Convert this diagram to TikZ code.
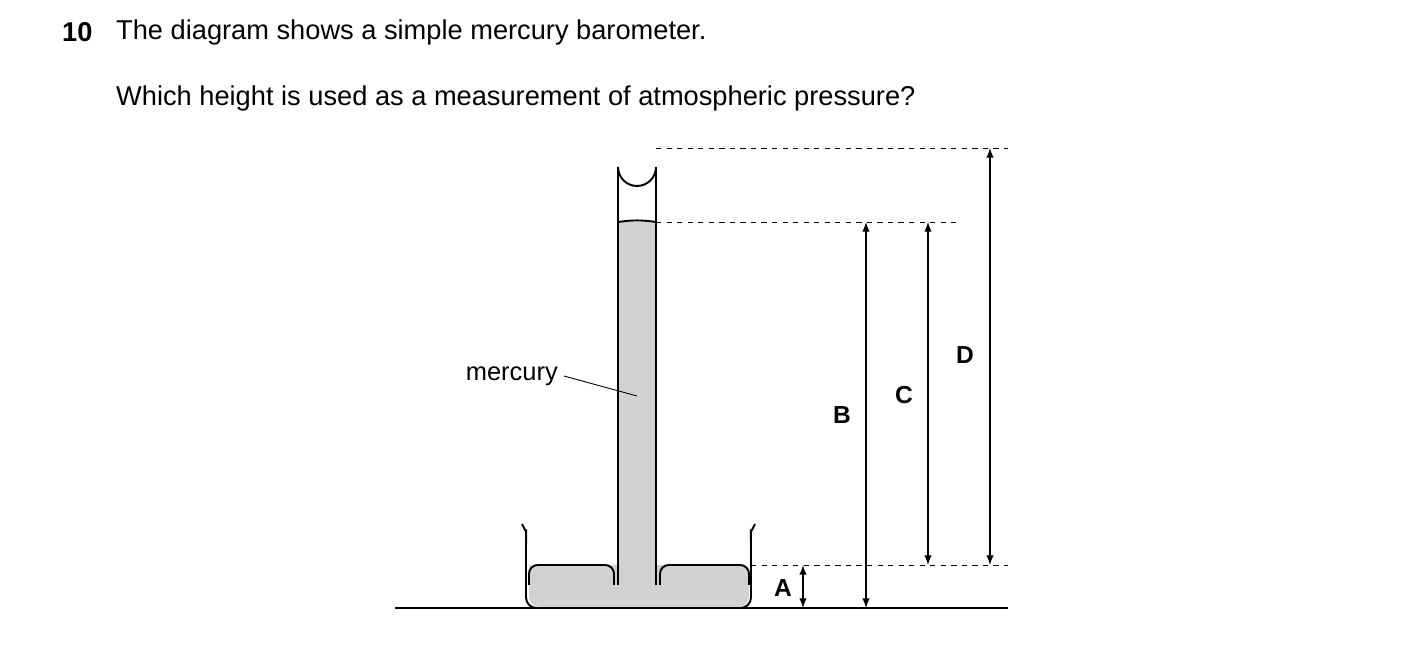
\documentclass[tikz,border=0pt]{standalone}
\usepackage{fontspec}
\setmainfont{Liberation Sans}
\begin{document}
\begin{tikzpicture}[x=0.02cm,y=-0.02cm]
\tikzset{ >=latex, glass/.style={line width=1.1pt}, dim/.style={<->, line width=0.9pt},
  guide/.style={dashed, line width=0.5pt}, lbl/.style={font=\bfseries\fontsize{14}{16}\selectfont} }
\useasboundingbox (0,0) rectangle (1403,661);

% question text
\node [anchor=west, font=\bfseries\fontsize{15.5}{18}\selectfont] (num) at (56,32) {10};
\node [anchor=west, font=\fontsize{15.5}{18}\selectfont] (q1) at (110,32) {The diagram shows a simple mercury barometer.};
\node [anchor=west, font=\fontsize{15.5}{18}\selectfont] (q2) at (110,98) {Which height is used as a measurement of atmospheric pressure?};

% mercury
\fill [gray!35] (529,565) [rounded corners=6pt] -- (529,607) -- (749,607) -- (749,565) [sharp corners] -- (656,565) -- (656,222) -- (618,222) -- (618,565) -- cycle;
\draw [glass] (529,585) [rounded corners=5pt] -- (529,565) -- (614,565) -- (614,585);
\draw [glass] (660,585) [rounded corners=5pt] -- (660,565) -- (749,565) -- (749,585);
\draw [glass] (618,222) to[bend left=8] (656,222);

% dish and tube
\draw [glass, rounded corners=6pt] (522,524) to[bend left=15] (526,540) -- (526,608) -- (751,608) -- (751,540) to[bend left=15] (755,524);
\draw [glass] (618,585) -- (618,167) arc (180:0:19) -- (656,585);
\draw [line width=1.2pt] (395,608) -- (1008,608);

% guide lines
\coordinate (top)  at (656,148);
\coordinate (lev)  at (656,222);
\coordinate (dish) at (751,565);
\draw [guide] (top)  -- (1008,148);
\draw [guide] (lev)  -- (958,222);
\draw [guide] (dish) -- (1008,565);

% heights
\coordinate (A1) at (803,565); \coordinate (A2) at (803,608);
\coordinate (B1) at (866,222); \coordinate (B2) at (866,608);
\coordinate (C1) at (928,222); \coordinate (C2) at (928,565);
\coordinate (D1) at (990,148); \coordinate (D2) at (990,565);
\draw [dim] (A1) -- (A2);
\draw [dim] (B1) -- (B2);
\draw [dim] (C1) -- (C2);
\draw [dim] (D1) -- (D2);

\node [lbl] (A) at (783,588) {A};
\node [lbl] (B) at (842,415) {B};
\node [lbl] (C) at (904,395) {C};
\node [lbl] (D) at (965,355) {D};

% label
\node [anchor=east, font=\fontsize{14.5}{16}\selectfont] (merc) at (564,376) {mercury};
\coordinate (mpt) at (637,396);
\draw [line width=0.5pt] (merc.east) -- (mpt);

\end{tikzpicture}
\end{document}
